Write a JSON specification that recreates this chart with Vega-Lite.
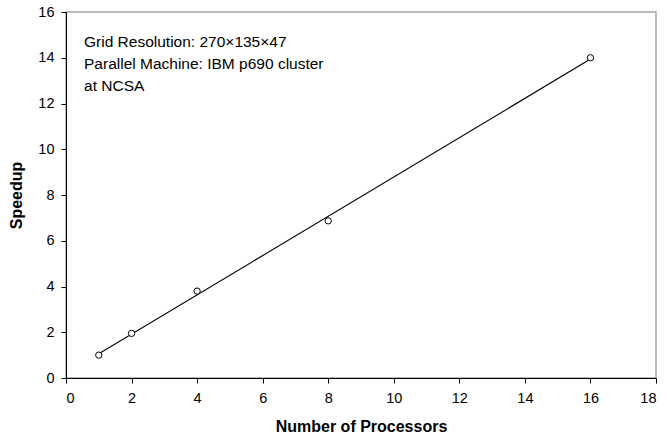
{
  "$schema": "https://vega.github.io/schema/vega-lite/v6.json",
  "autosize": {"type": "none"},
  "padding": {"left": 66, "top": 12, "right": 11, "bottom": 65},
  "width": 590,
  "height": 366,
  "config": {
    "font": "Liberation Sans",
    "view": {"stroke": "#a6a6a6", "strokeWidth": 1.5},
    "axis": {
      "grid": false,
      "domainColor": "#000000",
      "domainWidth": 1,
      "tickColor": "#000000",
      "tickSize": 5,
      "labelFont": "Liberation Sans",
      "labelFontSize": 14.5,
      "labelColor": "#000000",
      "titleFont": "Liberation Sans",
      "titleFontSize": 16,
      "titleFontWeight": "bold",
      "titleColor": "#000000"
    }
  },
  "datasets": {
    "speedup": [
      {"processors": 1, "speedup": 1.0},
      {"processors": 2, "speedup": 1.95},
      {"processors": 4, "speedup": 3.8},
      {"processors": 8, "speedup": 6.87},
      {"processors": 16, "speedup": 14.0}
    ],
    "note": [
      {"x": 0.55, "y": 15.0, "label": ["Grid Resolution: 270×135×47", "Parallel Machine: IBM p690 cluster", "at NCSA"]}
    ]
  },
  "layer": [
    {
      "data": {"name": "speedup"},
      "transform": [
        {"regression": "speedup", "on": "processors", "method": "linear", "extent": [1, 16]}
      ],
      "mark": {"type": "line", "color": "#000000", "strokeWidth": 1.1},
      "encoding": {
        "x": {
          "field": "processors", "type": "quantitative",
          "scale": {"domain": [0, 18], "nice": false},
          "axis": {"values": [0, 2, 4, 6, 8, 10, 12, 14, 16, 18], "labelPadding": 8, "title": "Number of Processors", "titlePadding": 14}
        },
        "y": {
          "field": "speedup", "type": "quantitative",
          "scale": {"domain": [0, 16], "nice": false},
          "axis": {"values": [0, 2, 4, 6, 8, 10, 12, 14, 16], "labelPadding": 7, "title": "Speedup", "titlePadding": 13}
        }
      }
    },
    {
      "data": {"name": "speedup"},
      "mark": {"type": "point", "shape": "circle", "size": 40, "filled": false, "fill": "#ffffff", "stroke": "#000000", "strokeWidth": 1, "opacity": 1},
      "encoding": {
        "x": {"field": "processors", "type": "quantitative"},
        "y": {"field": "speedup", "type": "quantitative"}
      }
    },
    {
      "data": {"name": "note"},
      "mark": {"type": "text", "align": "left", "baseline": "top", "fontSize": 15.5, "lineHeight": 22, "color": "#000000", "font": "Liberation Sans"},
      "encoding": {
        "x": {"field": "x", "type": "quantitative"},
        "y": {"field": "y", "type": "quantitative"},
        "text": {"field": "label"}
      }
    }
  ]
}
